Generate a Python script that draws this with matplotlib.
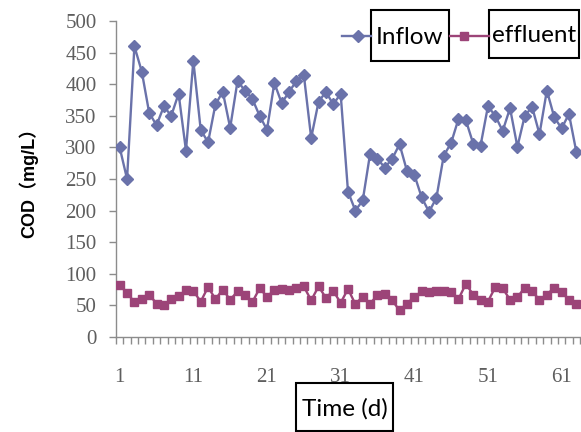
import matplotlib
matplotlib.use("Agg")
import matplotlib.pyplot as plt
from matplotlib.lines import Line2D
from matplotlib.patches import Rectangle
import numpy as np

days = list(range(1, 64))
inflow = [300, 250, 460, 420, 355, 335, 365, 350, 385, 295,
          437, 328, 308, 368, 388, 331, 405, 390, 377, 350,
          328, 402, 370, 388, 405, 415, 315, 372, 388, 368,
          385, 230, 200, 216, 290, 282, 268, 282, 305, 263,
          257, 221, 198, 220, 287, 307, 345, 343, 306, 303,
          365, 350, 326, 362, 301, 350, 364, 321, 390, 348,
          330, 353, 293]
effluent = [82, 70, 55, 60, 67, 53, 50, 60, 65, 74,
            73, 56, 79, 60, 75, 59, 72, 67, 55, 77,
            64, 74, 76, 75, 77, 80, 58, 80, 62, 73,
            54, 76, 52, 64, 53, 66, 68, 58, 42, 53,
            63, 72, 71, 73, 72, 71, 60, 84, 67, 58,
            56, 79, 77, 59, 63, 78, 72, 59, 67, 78,
            71, 59, 52]
xtick_labels = [1, 11, 21, 31, 41, 51, 61]
yticks = list(range(0, 501, 50))

W, H = 581, 432
fig = plt.figure(figsize=(W / 100, H / 100), dpi=100)
ax = fig.add_axes([116 / W, (H - 337) / H, 464 / W, 316 / H])

c_in = "#6A72AA"
c_ef = "#9C4478"
axis_c = "#8C8C8C"
lab_c = "#5E5E5E"

ax.plot(days, inflow, color=c_in, lw=1.7, marker="D", ms=6, zorder=3)
ax.plot(days, effluent, color=c_ef, lw=1.7, marker="s", ms=6, zorder=3)

ax.set_xlim(0.5, 63.5)
ax.set_ylim(0, 500)
for s in ["top", "right"]:
    ax.spines[s].set_visible(False)
for s in ["left", "bottom"]:
    ax.spines[s].set_color(axis_c)
    ax.spines[s].set_linewidth(1.0)

serif = ["Liberation Serif", "DejaVu Serif"]
ax.set_yticks(yticks)
ax.set_yticklabels([str(v) for v in yticks], fontsize=15, color=lab_c, family=serif)
ax.tick_params(axis="y", direction="out", length=5, width=1, color=axis_c, pad=9)

ax.set_xticks(xtick_labels)
ax.set_xticklabels([str(v) for v in xtick_labels], fontsize=15, color=lab_c, family=serif)
ax.set_xticks(np.arange(0.5, 63.6, 1.0), minor=True)
ax.tick_params(axis="x", which="major", length=0, pad=22)
ax.tick_params(axis="x", which="minor", direction="out", length=5, width=1, color=axis_c)

fig.text(28 / W, 1 - 178 / H, "COD（mg/L）", rotation=90, ha="center", va="center",
         fontsize=13, fontweight="bold", family=["Liberation Sans", "Noto Sans CJK SC"])

# legend (boxed labels)
def fx(x):
    return x / W

def fy(y):
    return 1 - y / H

fig.add_artist(Line2D([fx(342), fx(371)], [fy(36), fy(36)], color=c_in, lw=1.7,
                      transform=fig.transFigure))
fig.add_artist(Line2D([fx(358)], [fy(36)], color=c_in, marker="D", ms=6,
                      transform=fig.transFigure))
fig.add_artist(Line2D([fx(450), fx(489)], [fy(36), fy(36)], color=c_ef, lw=1.7,
                      transform=fig.transFigure))
fig.add_artist(Line2D([fx(464)], [fy(36)], color=c_ef, marker="s", ms=6,
                      transform=fig.transFigure))

font_box = ["Lato", "DejaVu Sans"]
for (x0, y0, x1, y1, txt) in [(371, 10, 449, 61, "Inflow"),
                              (489, 10, 579, 58, "effluent"),
                              (296, 383, 393, 431, "Time (d)")]:
    fig.add_artist(Rectangle((fx(x0), fy(y1)), (x1 - x0) / W, (y1 - y0) / H,
                             transform=fig.transFigure, fill=False, ec="black", lw=1.5))
    fig.text(fx((x0 + x1) / 2), fy((y0 + y1) / 2 + 2), txt, ha="center", va="center",
             fontsize=17.5, family=font_box, color="black")

fig.savefig("out.png", dpi=100)
